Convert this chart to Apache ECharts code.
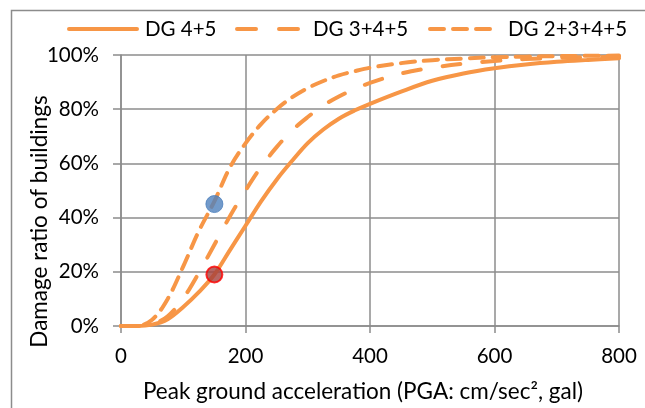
<!DOCTYPE html>
<html>
<head>
<meta charset="utf-8">
<script src="https://cdn.jsdelivr.net/npm/echarts@6/dist/echarts.min.js"></script>
<style>
  html, body { margin: 0; padding: 0; background: #fff; }
  #chart { width: 645px; height: 408px; }
</style>
</head>
<body>
<div id="chart"></div>
<script>
// Peak ground acceleration (gal) at which the fragility curves are sampled
const pga = [0, 25, 50, 75, 100, 125, 150, 175, 200, 225, 250, 275, 300, 325, 350, 375, 400,
             450, 500, 550, 600, 650, 700, 750, 800];

// Damage ratio (%) per damage-grade grouping
const dg45 = [0, 0, 0.5, 2.5, 7, 12.5, 19, 28, 37, 46, 54, 61, 67.5, 72.5, 76.5, 79.5, 82,
              86.5, 90.5, 93.2, 95.1, 96.5, 97.5, 98.2, 98.8];
const dg345 = [0, 0, 0.6, 3.6, 10.2, 19.6, 30, 40.5, 50, 58.7, 66, 72.2, 77.1, 81.4, 84.7, 87.4, 89.7,
               93.2, 95.3, 96.8, 97.8, 98.5, 98.9, 99.2, 99.4];
const dg2345 = [0, 0, 2.3, 10, 22, 35, 46, 58.5, 67.4, 74.5, 80, 84.4, 87.8, 90.4, 92.5, 94, 95.3,
                97, 98.1, 98.7, 99.2, 99.4, 99.6, 99.7, 99.8];

// Highlighted observations at PGA = 150 gal
const bluePoint = [150, 45];
const redPoint = [150, 19];

const seriesNames = ['DG 4+5', 'DG 3+4+5', 'DG 2+3+4+5'];
const orange = '#F79646';
const gridGray = '#8C8C8C';
const font = 'Lato, "Open Sans", sans-serif';
const fontSize = 20.5;
const titleSize = 22.5;

const pairs = ys => pga.map((x, i) => [x, ys[i]]);

// Rounded dash segments used as legend keys (x offsets and lengths, 4px tall)
function dashPath(segments) {
  return 'path://' + segments.map(([x, len]) =>
    `M${x + 2},0h${len - 4}a2,2 0 0 1 0,4h${-(len - 4)}a2,2 0 0 1 0,-4z`).join(' ');
}
const legendKeys = [
  { left: 67, width: 72, gap: 1, icon: dashPath([[0, 72]]) },
  { left: 235, width: 65, gap: 8, icon: dashPath([[0, 23], [42, 23]]) },
  { left: 428, width: 64, gap: 11, icon: dashPath([[0, 18], [23, 18], [46, 18]]) }
];

function curve(name, ys, dash) {
  return {
    name: name,
    type: 'line',
    data: pairs(ys),
    showSymbol: false,
    symbol: 'none',
    smooth: 0.35,
    lineStyle: { color: orange, width: 4, type: dash, cap: 'round' },
    itemStyle: { color: orange },
    z: 3
  };
}

const chart = echarts.init(document.getElementById('chart'), null, { renderer: 'canvas' });
chart.setOption({
  animation: false,
  backgroundColor: '#fff',
  textStyle: { fontFamily: font },
  graphic: [{
    type: 'rect',
    shape: { x: 11.5, y: 10.5, width: 700, height: 500 },
    style: { fill: 'none', stroke: gridGray, lineWidth: 1.5 },
    silent: true, z: -1
  }],
  legend: legendKeys.map((k, i) => ({
    data: [{ name: seriesNames[i], icon: k.icon }],
    left: k.left,
    top: 17,
    itemWidth: k.width,
    itemHeight: 4.5,
    padding: 0,
    textStyle: { fontFamily: font, fontSize: fontSize, color: '#000', padding: [0, 0, 0, k.gap], lineHeight: 24 }
  })),
  grid: { left: 121, right: 26, top: 55, bottom: 81, containLabel: false },
  xAxis: {
    type: 'value',
    min: 0, max: 800, interval: 200,
    name: 'Peak ground acceleration (PGA: cm/sec², gal)',
    nameLocation: 'middle',
    nameGap: 54,
    nameMoveOverlap: false,
    nameTextStyle: { fontFamily: font, fontSize: titleSize, color: '#000', padding: [0, 14, 0, 0] },
    axisLine: { show: true, lineStyle: { color: gridGray, width: 1.5 } },
    axisTick: { show: true, length: 7, lineStyle: { color: gridGray, width: 1.5 } },
    axisLabel: { margin: 20, fontFamily: font, fontSize: fontSize, color: '#000' },
    splitLine: { show: true, lineStyle: { color: gridGray, width: 1.5 } }
  },
  yAxis: {
    type: 'value',
    min: 0, max: 100, interval: 20,
    name: 'Damage ratio of buildings',
    nameLocation: 'middle',
    nameGap: 70,
    nameMoveOverlap: false,
    nameTextStyle: { fontFamily: font, fontSize: titleSize, color: '#000', padding: [0, 0, 0, -62] },
    axisLine: { show: true, lineStyle: { color: gridGray, width: 1.5 } },
    axisTick: { show: true, length: 8, lineStyle: { color: gridGray, width: 1.5 } },
    axisLabel: { margin: 22, fontFamily: font, fontSize: fontSize, color: '#000', formatter: '{value}%' },
    splitLine: { show: true, lineStyle: { color: gridGray, width: 1.5 } }
  },
  series: [
    curve(seriesNames[0], dg45, 'solid'),
    curve(seriesNames[1], dg345, [18, 22]),
    curve(seriesNames[2], dg2345, [14, 9]),
    {
      name: 'observed-blue',
      type: 'scatter',
      data: [bluePoint],
      symbol: 'circle',
      symbolSize: 17,
      itemStyle: { color: '#4F81BD', borderColor: '#4A7EBB', borderWidth: 1 },
      z: 5
    },
    {
      name: 'observed-red',
      type: 'scatter',
      data: [redPoint],
      symbol: 'circle',
      symbolSize: 16,
      itemStyle: { color: '#A5403C', borderColor: '#FF0000', borderWidth: 2 },
      z: 5
    }
  ]
});
</script>
</body>
</html>
